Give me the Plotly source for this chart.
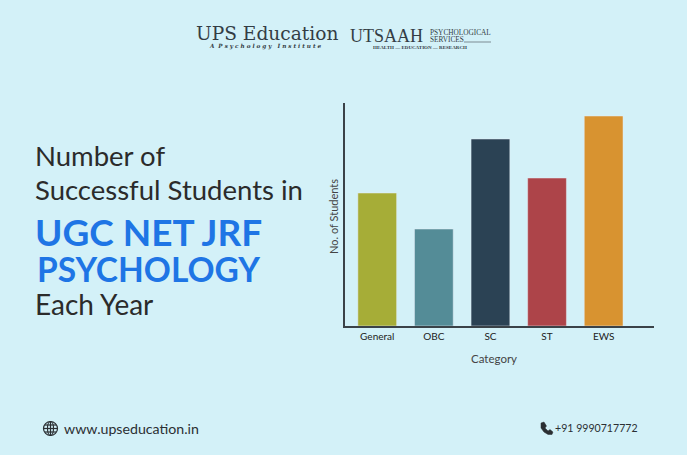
"""Bar chart poster: successful students per category, UGC NET JRF Psychology."""
import plotly.graph_objects as go

W, H = 687, 455
BG = "#d3f1f8"
DARK = "#2b2b2b"
BLUE = "#1e75e5"
SANS = "Lato"

categories = ["General", "OBC", "SC", "ST", "EWS"]
students = [133, 97, 187, 148, 210]
bar_colors = ["#a6ad37", "#548c97", "#2b4254", "#ad4449", "#d89330"]


def px(x):
    return x / W


def py(y):
    return 1 - y / H


def label(fig, x, y, text, size, color=DARK, family=SANS, anchor="left", angle=0):
    fig.add_annotation(
        x=px(x), y=py(y), xref="paper", yref="paper", text=text, showarrow=False,
        xanchor=anchor, yanchor="middle", textangle=angle,
        font=dict(size=size, color=color, family=family),
        borderpad=0, borderwidth=0,
    )


fig = go.Figure(go.Bar(
    x=categories, y=students,
    marker_color=bar_colors, width=0.685,
))

fig.update_layout(
    width=W, height=H,
    margin=dict(l=0, r=0, t=0, b=0),
    paper_bgcolor=BG, plot_bgcolor=BG,
    showlegend=False,
    xaxis=dict(
        domain=[px(345), px(654)], range=[-0.57, 4.89],
        showgrid=False, showline=True, linecolor="#3a4248", linewidth=1.5,
        ticks="", tickfont=dict(size=10, color="#222", family=SANS),
    ),
    yaxis=dict(
        domain=[py(326), py(103)], range=[0, 223],
        showgrid=False, zeroline=False, showline=True, linecolor="#3a4248", linewidth=1.5,
        ticks="", showticklabels=False,
    ),
)

# axis titles
label(fig, 494, 358, "Category", 11.5, "#444", anchor="center")
label(fig, 333, 217, "No. of Students", 11, "#444", anchor="center", angle=-90)

# headline
label(fig, 35, 155, "Number of", 27.5)
label(fig, 35, 189, "Successful Students in", 27.5)
label(fig, 35, 232, "<b>UGC NET JRF</b>", 37, BLUE)
label(fig, 37, 269, "<b>PSYCHOLOGY</b>", 33.5, BLUE)
label(fig, 35, 304, "Each Year", 28)

# logos
label(fig, 196, 34, "UPS Education", 18.6, "#333d45", "DejaVu Serif")
label(fig, 265.5, 47, "<b><i>A  P s y c h o l o g y   I n s t i t u t e</i></b>", 5.7, "#333d45",
      "DejaVu Serif", anchor="center")
label(fig, 350, 36, "UTSAAH", 18, "#333d45", "Liberation Serif")
label(fig, 430, 32.5, "PSYCHOLOGICAL", 7.3, "#333d45", "Liberation Serif")
label(fig, 430, 39, "SERVICES", 7.3, "#333d45", "Liberation Serif")
label(fig, 420, 47.5, "<b>HEALTH — EDUCATION — RESEARCH</b>", 5, "#333d45",
      "Liberation Serif", anchor="center")
fig.add_shape(type="line", xref="paper", yref="paper", x0=px(464), x1=px(491), y0=py(42), y1=py(42),
              line=dict(color="#7d8b93", width=1))

# footer
label(fig, 64, 428, "www.upseducation.in", 14.2, "#2b2f33")
label(fig, 555, 428, "+91 9990717772", 10.6, "#2b2f33")

# globe icon
cx, cy, r = 50.5, 428.5, 7
globe = dict(xref="paper", yref="paper", line=dict(color="#2b2f33", width=1.2))
fig.add_shape(type="circle", x0=px(cx - r), x1=px(cx + r), y0=py(cy + r), y1=py(cy - r), **globe)
fig.add_shape(type="circle", x0=px(cx - 3), x1=px(cx + 3), y0=py(cy + r), y1=py(cy - r), **globe)
fig.add_shape(type="line", x0=px(cx), x1=px(cx), y0=py(cy + r), y1=py(cy - r), **globe)
for dy, half in [(-3.5, 5.8), (0, 7), (3.5, 5.8)]:
    fig.add_shape(type="line", x0=px(cx - half), x1=px(cx + half), y0=py(cy + dy), y1=py(cy + dy), **globe)

# phone icon
points = [(541, 423), (544, 422), (546.5, 426), (545, 428), (548, 431), (550, 429.5), (553, 432),
          (552, 434.5), (548, 434.5), (544, 432), (541, 428)]
path = "M " + " L ".join(f"{px(x):.4f} {py(y):.4f}" for x, y in points) + " Z"
fig.add_shape(type="path", path=path, xref="paper", yref="paper",
              fillcolor="#2b2f33", line=dict(color="#2b2f33", width=0.5))

# the browser's default body margin would push the figure off the window
fig.write_html("out.html", config={"displayModeBar": False},
               post_script="document.body.style.margin = '0';")
